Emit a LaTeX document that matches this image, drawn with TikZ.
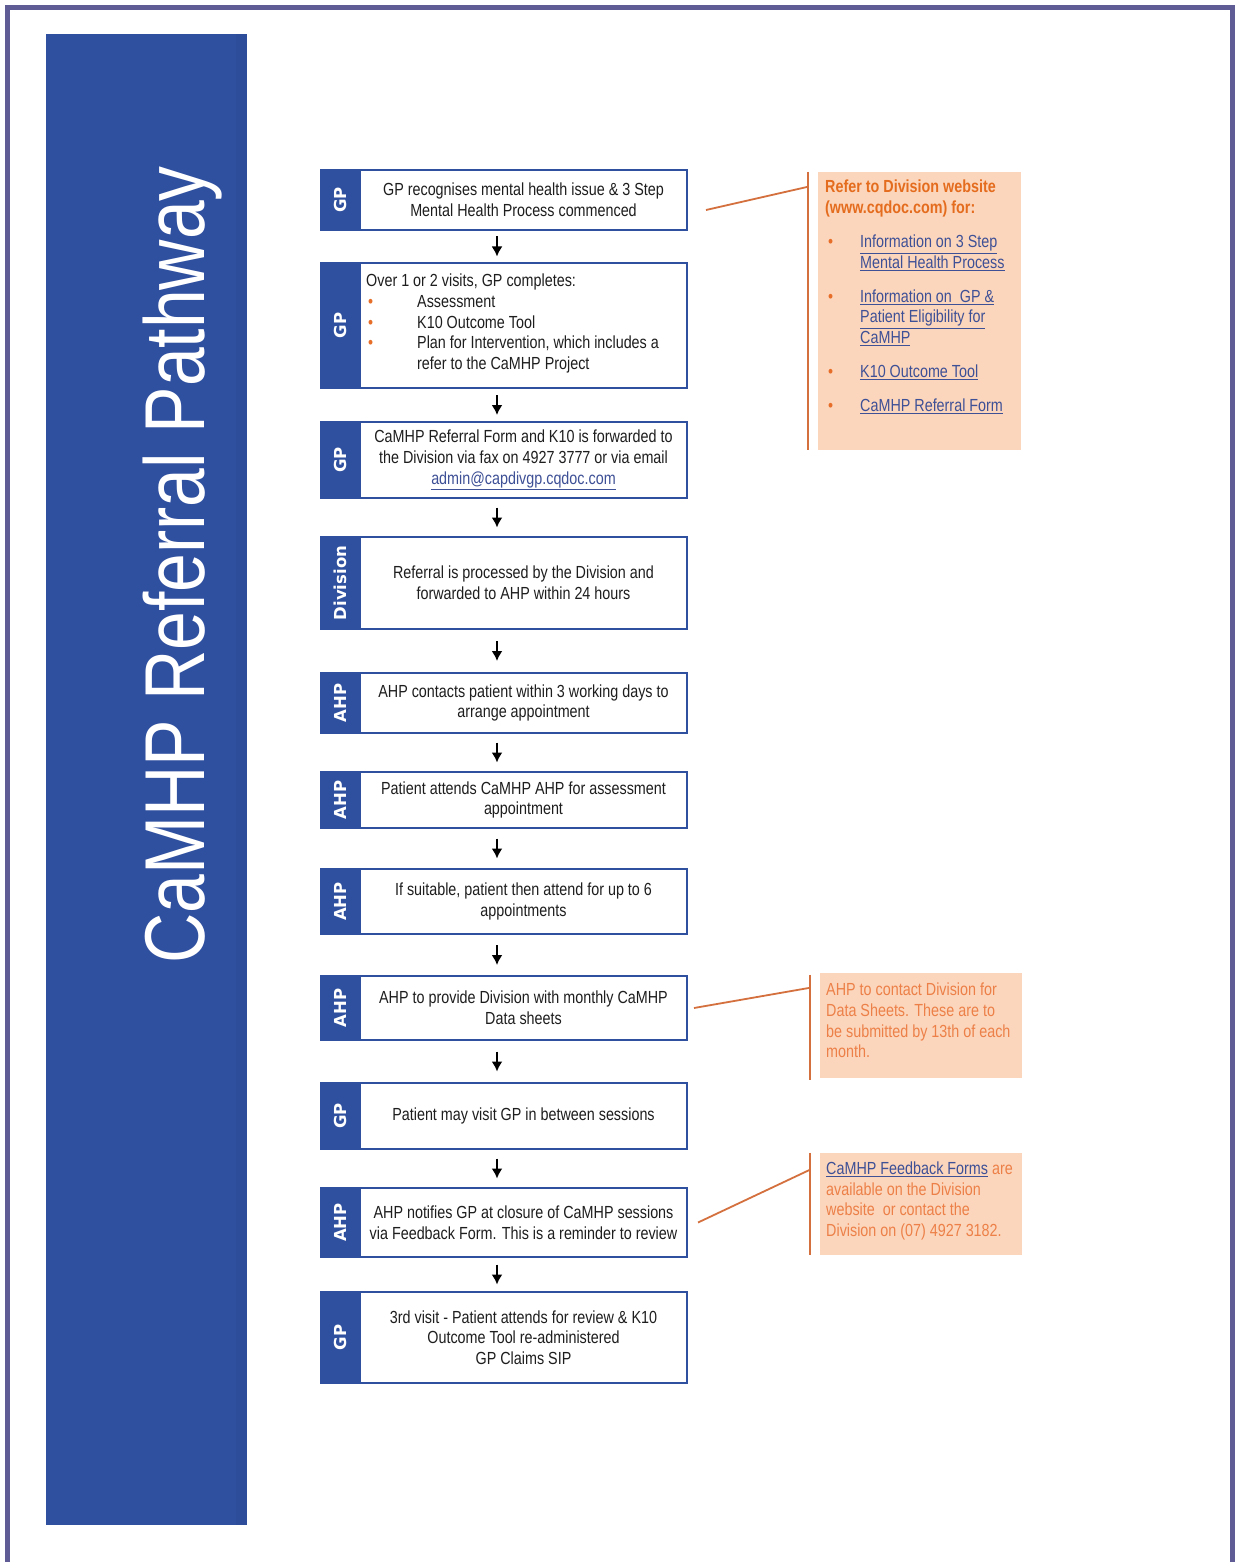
\documentclass[tikz,border=0pt]{standalone}
\usepackage{fontspec}
\setmainfont{Liberation Sans}
\newfontfamily\nar{Liberation Sans}[FakeStretch=0.82]
\newfontfamily\tagfont{DejaVu Sans}
\usetikzlibrary{arrows.meta,calc}
\definecolor{band}{RGB}{47,79,159}
\definecolor{bandedge}{RGB}{45,76,154}
\definecolor{framecol}{RGB}{95,91,149}
\definecolor{boxblue}{RGB}{46,80,158}
\definecolor{notefill}{RGB}{252,214,188}
\definecolor{noteline}{RGB}{212,112,62}
\definecolor{orangetxt}{RGB}{228,108,30}
\definecolor{orangelt}{RGB}{236,128,72}
\definecolor{linkcol}{RGB}{62,80,150}
\definecolor{txtcol}{RGB}{30,30,30}
\definecolor{bul}{RGB}{230,110,40}
\newcommand\mkstep[5]{%
  \node[stepbox, minimum height=#3pt] (#1) at (504,#2) {};
  \fill[boxblue] (#1.north west) rectangle ($(#1.south west)+(41,0)$);
  \node[tag] (#1t) at ($(#1.west)+(20.5,0)$) {#4};
  \node[steptext] (#1x) at ($(#1.center)+(19.5,0)$) {#5};
}
\begin{document}
\begin{tikzpicture}[x=1pt,y=-1pt,
  stepbox/.style={draw=boxblue, line width=2pt, fill=white, minimum width=366pt, inner sep=0pt},
  tag/.style={rotate=90, text=white, inner sep=0pt, font=\tagfont\bfseries\fontsize{16.5}{16.5}\selectfont},
  steptext/.style={inner sep=0pt, align=center, text=txtcol, font=\nar\fontsize{17.5}{20.7}\selectfont},
  notetext/.style={inner sep=0pt, align=left, font=\nar\fontsize{17.5}{20.6}\selectfont},
  flowarrow/.style={line width=1.8pt, -{Latex[length=10pt,width=11pt]}},
  notefillbox/.style={fill=notefill, inner sep=0pt},
  noteedge/.style={draw=noteline, line width=2pt},
  notelink/.style={draw=noteline, line width=1.8pt}
]
\useasboundingbox (0,0) rectangle (1234,1562);
\fill[white] (0,0) rectangle (1234,1562);
% page frame
\draw[framecol, line width=5pt] (7.5,1562) -- (7.5,7.5) -- (1232,7.5) -- (1232,1562);
% title band
\node[fill=band, minimum width=201pt, minimum height=1491pt, inner sep=0pt] (band) at (146.5,779.5) {};
\fill[bandedge] ($(band.north east)+(-11,0)$) rectangle (band.south east);
\node[rotate=90, anchor=base, text=white, inner sep=0pt, font=\nar\fontsize{85}{85}\selectfont] (title) at (204,565) {CaMHP Referral Pathway};

% steps
\mkstep{b1}{200}{60}{GP}{GP recognises mental health issue \& 3 Step\\Mental Health Process commenced}
\mkstep{b2}{325.5}{125}{GP}{}
\node[steptext, align=left, anchor=west] (b2x) at ($(b2.west)+(46,-2)$) {Over 1 or 2 visits, GP completes:\\
\makebox[51pt][l]{\hspace{2pt}\textcolor{bul}{\textbullet}}Assessment\\
\makebox[51pt][l]{\hspace{2pt}\textcolor{bul}{\textbullet}}K10 Outcome Tool\\
\makebox[51pt][l]{\hspace{2pt}\textcolor{bul}{\textbullet}}Plan for Intervention, which includes a\\
\hspace*{51pt}refer to the CaMHP Project};
\mkstep{b3}{460}{76}{GP}{CaMHP Referral Form and K10 is forwarded to\\the Division via fax on 4927 3777 or via email\\\textcolor{linkcol}{\underline{admin@capdivgp.cqdoc.com}}}
\mkstep{b4}{583}{92}{Division}{Referral is processed by the Division and\\forwarded to AHP within 24 hours}
\mkstep{b5}{703}{60}{AHP}{AHP contacts patient within 3 working days to\\arrange appointment}
\mkstep{b6}{800}{56}{AHP}{Patient attends CaMHP AHP for assessment\\appointment}
\mkstep{b7}{901.5}{65}{AHP}{If suitable, patient then attend for up to 6\\appointments}
\mkstep{b8}{1008}{64}{AHP}{AHP to provide Division with monthly CaMHP\\Data sheets}
\mkstep{b9}{1116}{66}{GP}{Patient may visit GP in between sessions}
\mkstep{b10}{1222.5}{69}{AHP}{AHP notifies GP at closure of CaMHP sessions\\via Feedback Form. This is a reminder to review}
\mkstep{b11}{1337.5}{91}{GP}{3rd visit - Patient attends for review \& K10\\Outcome Tool re-administered\\GP Claims SIP}

% arrows
\foreach \a/\b in {b1/b2,b2/b3,b3/b4,b4/b5,b5/b6,b6/b7,b7/b8,b8/b9,b9/b10,b10/b11}{
  \draw[flowarrow] ($(\a.south)!0.5!(\b.north)+(-7,-10)$) -- ($(\a.south)!0.5!(\b.north)+(-7,10)$);
}

% note 1
\node[notefillbox, minimum width=203pt, minimum height=278pt] (n1) at (919.5,311) {};
\coordinate (v1a) at ($(n1.north west)+(-10,0)$);
\coordinate (v1b) at ($(n1.south west)+(-10,0)$);
\draw[noteedge] (v1a) -- (v1b);
\draw[notelink] ($(b1.east)+(18,10)$) -- ($(v1a)+(0,15)$);
\node[notetext, anchor=west, text=orangetxt, font=\nar\bfseries\fontsize{17.5}{20.6}\selectfont] (n1h) at (825,198.5) {Refer to Division website\\(www.cqdoc.com) for:};
\node[notetext, anchor=west, text=linkcol] (n1i1) at (860,253) {\llap{\textcolor{bul}{\textbullet}\hspace{27pt}}\underline{Information on 3 Step}\\\underline{Mental Health Process}};
\node[notetext, anchor=west, text=linkcol] (n1i2) at (860,317.5) {\llap{\textcolor{bul}{\textbullet}\hspace{27pt}}\underline{Information on\ \ GP \&}\\\underline{Patient Eligibility for}\\\underline{CaMHP}};
\node[notetext, anchor=west, text=linkcol] (n1i3) at (860,372) {\llap{\textcolor{bul}{\textbullet}\hspace{27pt}}\underline{K10 Outcome Tool}};
\node[notetext, anchor=west, text=linkcol] (n1i4) at (860,406) {\llap{\textcolor{bul}{\textbullet}\hspace{27pt}}\underline{CaMHP Referral Form}};

% note 2
\node[notefillbox, minimum width=202pt, minimum height=105pt] (n2) at (921,1025.5) {};
\coordinate (v2a) at ($(n2.north west)+(-10,2)$);
\coordinate (v2b) at ($(n2.south west)+(-10,2)$);
\draw[noteedge] (v2a) -- (v2b);
\draw[notelink] ($(b8.east)+(6,0)$) -- ($(v2a)+(0,13)$);
\node[notetext, anchor=west, text=orangelt] (n2t) at (826,1020.5) {AHP to contact Division for\\Data Sheets. These are to\\be submitted by 13th of each\\month.};

% note 3
\node[notefillbox, minimum width=202pt, minimum height=102pt] (n3) at (921,1204) {};
\coordinate (v3a) at ($(n3.north west)+(-10,0)$);
\coordinate (v3b) at ($(n3.south west)+(-10,0)$);
\draw[noteedge] (v3a) -- (v3b);
\draw[notelink] ($(b10.east)+(10,0)$) -- ($(v3a)+(0,17)$);
\node[notetext, anchor=west, text=orangelt] (n3t) at (826,1201) {\textcolor{linkcol}{\underline{CaMHP Feedback Forms}} are\\available on the Division\\website\ \ or contact the\\Division on (07) 4927 3182.};
\end{tikzpicture}
\end{document}
